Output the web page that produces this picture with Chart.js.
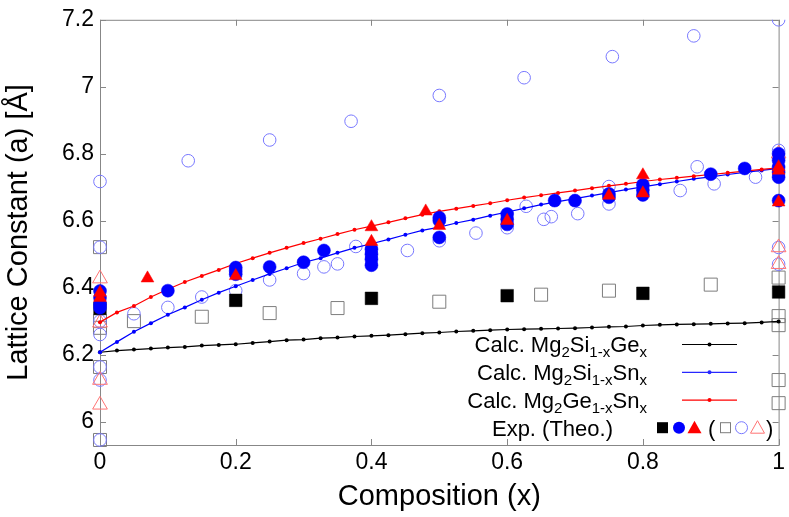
<!DOCTYPE html>
<html lang="en">
<head>
    <meta charset="UTF-8">
    <title>Lattice Constant vs Composition</title>
    <script src="https://cdn.jsdelivr.net/npm/chart.js"></script>
    <style>
        body { margin: 0; background: #ffffff; }
        #graphique { display: block; }
    </style>
</head>
<body>
    <canvas id="graphique" width="789" height="517"></canvas>

    <script>
        // Composition grid of the calculated curves
        const calcX = [0, 0.025, 0.05, 0.075, 0.1, 0.125, 0.15, 0.175, 0.2, 0.225, 0.25, 0.275, 0.3, 0.325, 0.35, 0.375, 0.4,
            0.425, 0.45, 0.475, 0.5, 0.525, 0.55, 0.575, 0.6, 0.625, 0.65, 0.675, 0.7, 0.725, 0.75, 0.775, 0.8,
            0.825, 0.85, 0.875, 0.9, 0.925, 0.95, 0.975, 1];

        // Calculated lattice constants (Å)
        const calcSiGe = [6.207, 6.212, 6.215, 6.218, 6.221, 6.223, 6.227, 6.229, 6.231, 6.235, 6.239, 6.243, 6.245, 6.249,
            6.251, 6.254, 6.256, 6.258, 6.261, 6.264, 6.266, 6.269, 6.271, 6.273, 6.275, 6.276, 6.277, 6.278,
            6.279, 6.281, 6.283, 6.284, 6.287, 6.289, 6.290, 6.291, 6.292, 6.293, 6.294, 6.296, 6.299];
        const calcSiSn = [6.207, 6.238, 6.268, 6.294, 6.319, 6.341, 6.364, 6.385, 6.404, 6.423, 6.441, 6.458, 6.475, 6.488,
            6.504, 6.519, 6.531, 6.544, 6.558, 6.571, 6.581, 6.593, 6.603, 6.615, 6.626, 6.637, 6.648, 6.657,
            6.666, 6.675, 6.684, 6.693, 6.701, 6.709, 6.717, 6.725, 6.731, 6.738, 6.744, 6.750, 6.756];
        const calcGeSn = [6.297, 6.326, 6.345, 6.372, 6.395, 6.417, 6.435, 6.453, 6.472, 6.488, 6.504, 6.519, 6.533, 6.546,
            6.560, 6.573, 6.584, 6.595, 6.607, 6.618, 6.628, 6.636, 6.644, 6.652, 6.661, 6.669, 6.676, 6.683,
            6.690, 6.697, 6.704, 6.710, 6.717, 6.723, 6.728, 6.733, 6.738, 6.743, 6.748, 6.753, 6.758];

        // Experimental points [x, a] (filled symbols)
        const expSiGe = [[0, 6.338], [0.2, 6.362], [0.4, 6.368], [0.6, 6.376], [0.8, 6.383], [1, 6.387]];
        const expSiSn = [[0, 6.39], [0, 6.37], [0, 6.35], [0, 6.34], [0.1, 6.391], [0.2, 6.46], [0.2, 6.45], [0.2, 6.44],
            [0.25, 6.462], [0.3, 6.476], [0.33, 6.511], [0.4, 6.515], [0.4, 6.50], [0.4, 6.485], [0.4, 6.467],
            [0.5, 6.609], [0.5, 6.60], [0.5, 6.55], [0.6, 6.62], [0.6, 6.604], [0.6, 6.589], [0.67, 6.66],
            [0.7, 6.66], [0.75, 6.68], [0.75, 6.67], [0.8, 6.707], [0.8, 6.692], [0.8, 6.677], [0.9, 6.739],
            [0.95, 6.756], [1, 6.80], [1, 6.78], [1, 6.76], [1, 6.745], [1, 6.73], [1, 6.66]];
        const expGeSn = [[0, 6.385], [0, 6.37], [0.07, 6.428], [0.2, 6.435], [0.4, 6.581], [0.4, 6.537], [0.48, 6.628],
            [0.5, 6.585], [0.6, 6.60], [0.75, 6.675], [0.8, 6.736], [0.8, 6.682], [1, 6.76], [1, 6.75], [1, 6.655]];

        // Theoretical points [x, a] (open symbols)
        const theoSiGe = [[0, 6.521], [0, 6.30], [0, 6.28], [0, 6.163], [0, 5.945], [0.05, 6.30], [0.15, 6.313],
            [0.25, 6.324], [0.35, 6.339], [0.5, 6.358], [0.65, 6.379], [0.75, 6.391], [0.9, 6.409], [1, 6.43],
            [1, 6.315], [1, 6.288], [1, 6.124], [1, 6.055]];
        const theoSiSn = [[0, 6.717], [0, 6.521], [0, 6.30], [0, 6.26], [0, 6.163], [0, 6.124], [0, 5.945], [0.05, 6.322],
            [0.1, 6.341], [0.13, 6.779], [0.15, 6.372], [0.2, 6.391], [0.25, 6.423], [0.25, 6.841], [0.3, 6.442],
            [0.33, 6.462], [0.35, 6.471], [0.37, 6.897], [0.377, 6.523], [0.453, 6.511], [0.5, 6.54], [0.5, 6.974],
            [0.554, 6.563], [0.6, 6.579], [0.625, 7.027], [0.628, 6.643], [0.654, 6.604], [0.665, 6.612],
            [0.704, 6.621], [0.75, 6.702], [0.75, 6.65], [0.755, 7.09], [0.855, 6.69], [0.875, 7.152],
            [0.88, 6.761], [0.905, 6.71], [0.966, 6.73], [1, 7.2], [1, 6.81], [1, 6.52], [1, 6.47]];
        const theoGeSn = [[0, 6.427], [0, 6.295], [0, 6.124], [0, 6.05], [1, 6.80], [1, 6.52], [1, 6.47]];

        // Tick values
        const xTicks = [0, 0.2, 0.4, 0.6, 0.8, 1];
        const yTicks = [6, 6.2, 6.4, 6.6, 6.8, 7, 7.2];

        const FONT = "'Liberation Sans', Arial, sans-serif";
        const BLUE = 'rgb(0,0,255)';
        const RED = 'rgb(255,0,0)';
        const OPEN_BLUE = 'rgb(120,120,255)';
        const OPEN_RED = 'rgb(255,115,115)';
        const OPEN_GREY = 'rgb(125,125,125)';
        const EDGE = { left: 14, right: 14, top: 0, bottom: 8 };

        const pts = arr => arr.map(p => ({ x: p[0], y: p[1] }));
        const curve = ys => calcX.map((x, i) => ({ x: x, y: ys[i] }));

        function markers(label, data, style, radius, fill, stroke, width) {
            return {
                label: label, data: pts(data), showLine: false, clip: EDGE,
                pointStyle: style, pointRadius: radius,
                pointBackgroundColor: fill, pointBorderColor: stroke, pointBorderWidth: width
            };
        }
        function calcLine(label, ys, color) {
            return {
                type: 'line', label: label, data: curve(ys), showLine: true, tension: 0, clip: EDGE,
                borderColor: color, borderWidth: 1.2, fill: false,
                pointStyle: 'circle', pointRadius: 2, pointBackgroundColor: color, pointBorderWidth: 0
            };
        }

        // Frame and inward ticks
        const framePlugin = {
            id: 'frame',
            beforeDatasetsDraw(chart) {
                const { ctx, chartArea: a, scales } = chart;
                ctx.save();
                ctx.strokeStyle = 'rgb(135,135,135)';
                ctx.lineWidth = 1;
                ctx.strokeRect(a.left + 0.5, a.top + 0.5, a.right - a.left, a.bottom - a.top);
                ctx.beginPath();
                scales.x.ticks.forEach(t => {
                    const px = Math.round(scales.x.getPixelForValue(t.value)) + 0.5;
                    ctx.moveTo(px, a.bottom); ctx.lineTo(px, a.bottom - 6);
                    ctx.moveTo(px, a.top); ctx.lineTo(px, a.top + 6);
                });
                scales.y.ticks.forEach(t => {
                    const py = Math.round(scales.y.getPixelForValue(t.value)) + 0.5;
                    ctx.moveTo(a.left, py); ctx.lineTo(a.left + 6, py);
                    ctx.moveTo(a.right, py); ctx.lineTo(a.right - 6, py);
                });
                ctx.stroke();
                ctx.restore();
            }
        };

        // Key with subscripts, drawn inside the plot
        const keyRows = [
            { parts: [['Calc. Mg', 0], ['2', 1], ['Si', 0], ['1-x', 1], ['Ge', 0], ['x', 1]], color: '#000000' },
            { parts: [['Calc. Mg', 0], ['2', 1], ['Si', 0], ['1-x', 1], ['Sn', 0], ['x', 1]], color: 'rgb(40,40,255)' },
            { parts: [['Calc. Mg', 0], ['2', 1], ['Ge', 0], ['1-x', 1], ['Sn', 0], ['x', 1]], color: RED }
        ];
        const keyPlugin = {
            id: 'key',
            afterDatasetsDraw(chart) {
                const ctx = chart.ctx;
                const big = '22px ' + FONT, small = '15px ' + FONT;
                ctx.save();
                ctx.fillStyle = '#000';
                ctx.textBaseline = 'alphabetic';
                keyRows.forEach((row, i) => {
                    const cy = 344 + i * 27.8;
                    let w = 0;
                    row.parts.forEach(p => { ctx.font = p[1] ? small : big; w += ctx.measureText(p[0]).width; });
                    let x = 647 - w;
                    row.parts.forEach(p => {
                        ctx.font = p[1] ? small : big;
                        ctx.fillText(p[0], x, cy + (p[1] ? 13 : 8));
                        x += ctx.measureText(p[0]).width;
                    });
                    ctx.strokeStyle = row.color;
                    ctx.lineWidth = 1.2;
                    ctx.beginPath(); ctx.moveTo(682, cy + 0.5); ctx.lineTo(737, cy + 0.5); ctx.stroke();
                    ctx.fillStyle = row.color;
                    ctx.beginPath(); ctx.arc(709.5, cy + 0.5, 2, 0, Math.PI * 2); ctx.fill();
                    ctx.fillStyle = '#000';
                });
                // last row: experimental / theoretical symbols
                const cy = 427.7;
                ctx.font = big;
                ctx.textAlign = 'right';
                ctx.fillText('Exp. (Theo.)', 613, cy + 8);
                ctx.textAlign = 'left';
                ctx.fillRect(657, cy - 5.5, 11, 11);
                ctx.fillStyle = BLUE;
                ctx.beginPath(); ctx.arc(679, cy, 6, 0, Math.PI * 2); ctx.fill();
                ctx.fillStyle = RED;
                ctx.beginPath(); ctx.moveTo(694.5, cy - 7); ctx.lineTo(701.5, cy + 5.5); ctx.lineTo(687.5, cy + 5.5); ctx.closePath(); ctx.fill();
                ctx.fillStyle = '#000';
                ctx.fillText('(', 708, cy + 8);
                ctx.fillText(')', 766, cy + 8);
                ctx.lineWidth = 1;
                ctx.strokeStyle = OPEN_GREY;
                ctx.strokeRect(720.5, cy - 5, 10, 10);
                ctx.strokeStyle = OPEN_BLUE;
                ctx.beginPath(); ctx.arc(741.5, cy, 6, 0, Math.PI * 2); ctx.stroke();
                ctx.strokeStyle = OPEN_RED;
                ctx.beginPath(); ctx.moveTo(757.5, cy - 7); ctx.lineTo(764.5, cy + 5.5); ctx.lineTo(750.5, cy + 5.5); ctx.closePath(); ctx.stroke();
                ctx.restore();
            }
        };

        const ctx = document.getElementById('graphique').getContext('2d');
        const myChart = new Chart(ctx, {
            type: 'scatter',
            data: {
                datasets: [
                    markers('Exp. Mg2Ge1-xSnx', expGeSn, 'triangle', 7.4, RED, RED, 0.5),
                    markers('Exp. Mg2Si1-xSnx', expSiSn, 'circle', 6.5, BLUE, BLUE, 0.5),
                    markers('Exp. Mg2Si1-xGex', expSiGe, 'rect', 8.9, '#000000', '#000000', 0.5),
                    calcLine('Calc. Mg2Ge1-xSnx', calcGeSn, RED),
                    calcLine('Calc. Mg2Si1-xSnx', calcSiSn, BLUE),
                    calcLine('Calc. Mg2Si1-xGex', calcSiGe, '#000000'),
                    markers('Theo. Mg2Ge1-xSnx', theoGeSn, 'triangle', 8.5, 'rgba(0,0,0,0)', OPEN_RED, 1),
                    markers('Theo. Mg2Si1-xSnx', theoSiSn, 'circle', 6.3, 'rgba(0,0,0,0)', OPEN_BLUE, 1),
                    markers('Theo. Mg2Si1-xGex', theoSiGe, 'rect', 9.2, 'rgba(0,0,0,0)', OPEN_GREY, 1)
                ]
            },
            options: {
                responsive: false,
                animation: false,
                devicePixelRatio: 1,
                events: [],
                layout: { autoPadding: false, padding: { top: 14, right: 7, left: 0, bottom: 0 } },
                plugins: { legend: { display: false }, tooltip: { enabled: false } },
                scales: {
                    x: {
                        type: 'linear', min: 0, max: 1,
                        afterBuildTicks: s => { s.ticks = xTicks.map(v => ({ value: v })); },
                        afterFit: s => { s.height = 72; },
                        grid: { display: false, drawTicks: false },
                        border: { display: false },
                        ticks: { padding: 4, color: '#000', autoSkip: false, maxRotation: 0,
                            font: { family: FONT, size: 23 }, callback: v => String(v) },
                        title: { display: true, text: 'Composition (x)', color: '#000',
                            font: { family: FONT, size: 29 }, padding: { top: 0, bottom: 3 } }
                    },
                    y: {
                        type: 'linear', min: 5.93, max: 7.2,
                        afterBuildTicks: s => { s.ticks = yTicks.map(v => ({ value: v })); },
                        afterFit: s => { s.width = 100; },
                        grid: { display: false, drawTicks: false },
                        border: { display: false },
                        ticks: { padding: 6, color: '#000', autoSkip: false,
                            font: { family: FONT, size: 23 }, callback: v => String(v) },
                        title: { display: true, text: 'Lattice Constant (a) [Å]', color: '#000',
                            font: { family: FONT, size: 29 }, padding: { top: 2, bottom: 0 } }
                    }
                }
            },
            plugins: [framePlugin, keyPlugin]
        });
    </script>
</body>
</html>
